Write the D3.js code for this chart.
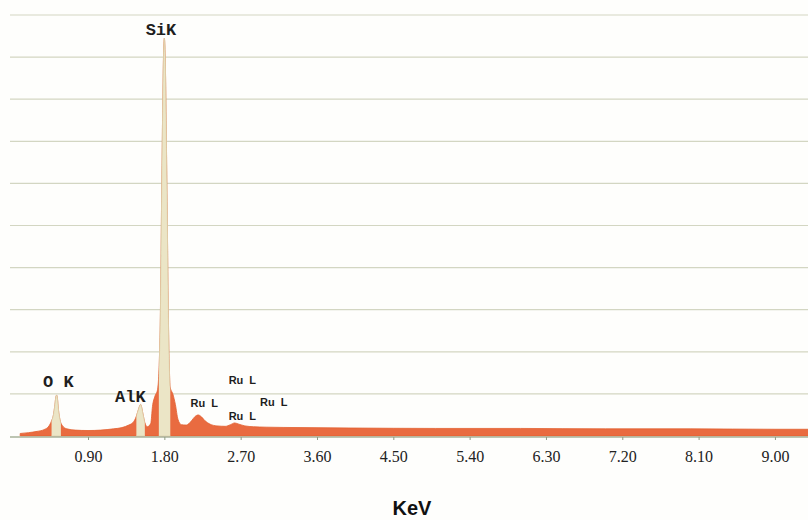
<!DOCTYPE html>
<html>
<head>
<meta charset="utf-8">
<script src="https://cdn.jsdelivr.net/npm/d3@7"></script>
<style>
  body { margin: 0; background: #fff; }
</style>
</head>
<body>
<script>
// Spectrum (energy in keV, counts in arbitrary units)
const energy = [0.10, 0.20, 0.30, 0.38, 0.44, 0.47, 0.49, 0.51, 0.52, 0.53, 0.54, 0.55, 0.57, 0.60, 0.65, 0.75,
  0.90, 1.05, 1.20, 1.30, 1.38, 1.43, 1.46, 1.49, 1.51, 1.52, 1.53, 1.55, 1.57, 1.60, 1.64, 1.66, 1.69, 1.72,
  1.75, 1.77, 1.79, 1.80, 1.81, 1.83, 1.85, 1.87, 1.90, 1.93, 1.96, 2.00, 2.06, 2.12, 2.16, 2.20, 2.24, 2.28,
  2.34, 2.42, 2.52, 2.58, 2.63, 2.68, 2.75, 2.85, 3.00, 3.40, 4.00, 5.00, 6.00, 7.00, 8.00, 9.00, 9.40]
const counts = [6, 8, 11, 15, 24, 36, 48, 75, 92, 97, 88, 65, 38, 24, 17, 14,
  13, 14, 17, 20, 26, 32, 42, 60, 72, 75, 70, 50, 32, 22, 30, 70, 95, 110,
  250, 600, 900, 945, 900, 600, 250, 115, 100, 75, 40, 27, 26, 36, 46, 50, 45, 36,
  28, 24, 23, 27, 31, 28, 24, 22, 21, 20, 19, 18, 18, 17, 17, 16, 16]

// element windows (shaded pale on the spectrum)
const roiStart = [0.47, 1.47, 1.735]
const roiEnd = [0.58, 1.57, 1.87]

// peak labels: text, energy, height of label baseline
const peakText = ['O K', 'AlK', 'SiK']
const peakKeV = [0.55, 1.40, 1.76]
const peakAt = [116, 81, 952]
const ruText = ['Ru L', 'Ru L', 'Ru L', 'Ru L']
const ruKeV = [2.72, 2.27, 2.72, 3.09]
const ruAt = [124, 69, 38, 71]

const tickValues = [0.9, 1.8, 2.7, 3.6, 4.5, 5.4, 6.3, 7.2, 8.1, 9.0]
const gridValues = [100, 200, 300, 400, 500, 600, 700, 800, 900, 1000]

const width = 808
const height = 520

const svg = d3.select('body').append('svg')
    .attr('width', width)
    .attr('height', height)
    .style('background-color', '#fefefc')

const x = d3.scaleLinear().domain([0, 9.39]).range([11.7, 808])
const y = d3.scaleLinear().domain([0, 1000]).range([436, 15])

const spectrum = energy.map((e, i) => ({ e, c: counts[i] }))

// gridlines
svg.append('g')
    .selectAll('line')
    .data(gridValues)
    .enter().append('line')
    .attr('x1', 10)
    .attr('x2', width)
    .attr('y1', d => y(d))
    .attr('y2', d => y(d))
    .style('stroke', '#d3d6c2')
    .style('stroke-width', 1.2)

const area = d3.area()
    .x(d => x(d.e))
    .y0(y(0))
    .y1(d => y(d.c))
    .curve(d3.curveMonotoneX)

// clip for element windows
const defs = svg.append('defs')
const clip = defs.append('clipPath').attr('id', 'roi')
clip.selectAll('rect')
    .data(roiStart)
    .enter().append('rect')
    .attr('x', d => x(d))
    .attr('width', (d, i) => x(roiEnd[i]) - x(d))
    .attr('y', 0)
    .attr('height', height)

svg.append('path')
    .datum(spectrum)
    .attr('d', area)
    .style('fill', '#e96b40')
    .style('stroke', '#e2602f')
    .style('stroke-width', 0.8)

svg.append('path')
    .datum(spectrum)
    .attr('d', area)
    .attr('clip-path', 'url(#roi)')
    .style('fill', '#ebe5c6')
    .style('stroke', '#ddd6b0')
    .style('stroke-width', 0.8)

// x axis
const xAxis = svg.append('g')
    .attr('class', 'x axis')
    .attr('transform', `translate(0, ${y(0) + 1})`)
    .call(d3.axisBottom(x)
        .tickValues(tickValues)
        .tickFormat(d3.format('.2f'))
        .tickSize(3)
        .tickSizeOuter(0)
        .tickPadding(11))

xAxis.select('.domain')
    .attr('d', `M10,0H${width}`)
    .style('stroke', '#a7b29a')
    .style('stroke-width', 1.5)
xAxis.selectAll('.tick line').style('stroke', '#8f9a84')
xAxis.selectAll('.tick text')
    .style('font-family', '"Liberation Serif", serif')
    .style('font-size', '16px')
    .style('fill', '#222')

// element labels
svg.append('g')
    .selectAll('text')
    .data(peakText)
    .enter().append('text')
    .attr('x', (d, i) => x(peakKeV[i]))
    .attr('y', (d, i) => y(peakAt[i]))
    .attr('text-anchor', 'middle')
    .style('font-family', '"Liberation Mono", "DejaVu Sans Mono", monospace')
    .style('font-weight', 'bold')
    .style('font-size', '17px')
    .style('fill', '#1e1e1e')
    .text(d => d)

svg.append('g')
    .selectAll('text')
    .data(ruText)
    .enter().append('text')
    .attr('x', (d, i) => x(ruKeV[i]))
    .attr('y', (d, i) => y(ruAt[i]))
    .attr('text-anchor', 'middle')
    .style('font-family', '"Liberation Sans", Arial, sans-serif')
    .style('font-weight', 'bold')
    .style('font-size', '11px')
    .style('word-spacing', '3px')
    .style('fill', '#1e1e1e')
    .text(d => d)

// axis title
svg.append('text')
    .attr('x', 412)
    .attr('y', 515)
    .attr('text-anchor', 'middle')
    .style('font-family', '"Liberation Sans", Arial, sans-serif')
    .style('font-weight', 'bold')
    .style('font-size', '20px')
    .style('fill', '#111')
    .text('KeV')
</script>
</body>
</html>
